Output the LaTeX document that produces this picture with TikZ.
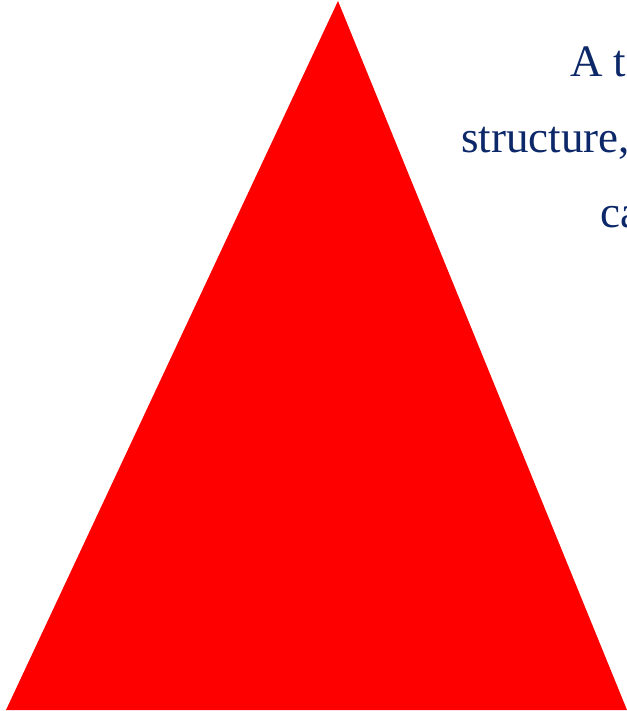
\documentclass[tikz,border=0pt]{standalone}
\usepackage{fontspec}
\setmainfont{Liberation Serif}
\definecolor{navy}{RGB}{12,40,104}
\begin{document}
\begin{tikzpicture}[x=1pt,y=-1pt,
  txt/.style={anchor=base west,inner sep=0pt,text=navy,font=\fontsize{45}{50}\selectfont}]
\useasboundingbox (0,0) rectangle (626,711);
\node[txt] (l1) at (570,77) {A tr};
\node[txt] (l2) at (461,153) {structure,};
\node[txt] (l3) at (600,228) {ca};
\fill[red] (338,1) -- (627,710) -- (6,710) -- cycle;
\end{tikzpicture}
\end{document}
